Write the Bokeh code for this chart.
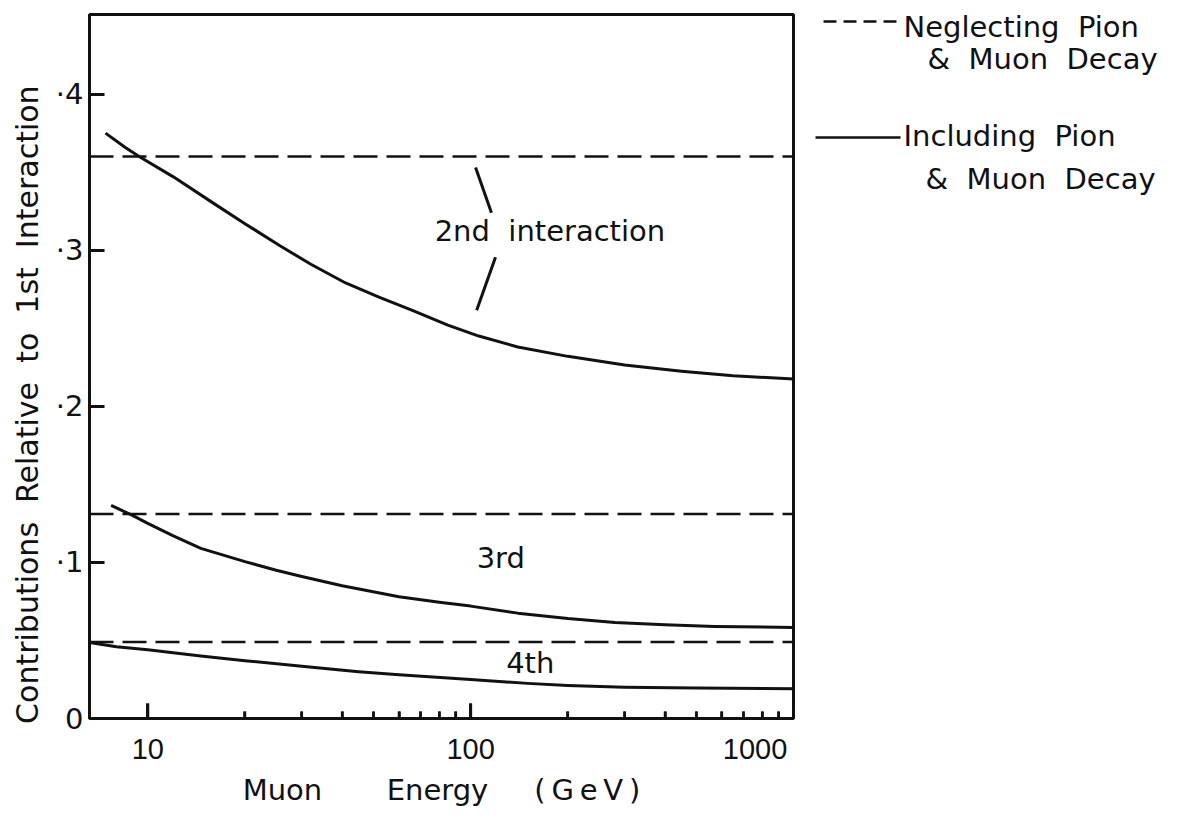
from bokeh.plotting import figure
from bokeh.models import FixedTicker, Range1d
from bokeh.layouts import row
from bokeh.embed import file_html
from bokeh.resources import INLINE
from bokeh.core.properties import value

# ---------------- data ----------------
energy_2nd = [7.4, 8.5, 9.4, 12, 16, 20, 25.6, 32, 41, 52, 66, 85, 106, 140, 200, 300, 450, 650, 1000]
incl_2nd = [0.375, 0.366, 0.360, 0.347, 0.330, 0.317, 0.303, 0.291, 0.279, 0.270, 0.2615, 0.252,
            0.245, 0.238, 0.232, 0.2265, 0.2225, 0.2195, 0.2175]
energy_3rd = [7.7, 9, 10, 12, 14.6, 20, 25, 30, 40, 60, 80, 100, 140, 200, 280, 400, 570, 1000]
incl_3rd = [0.1365, 0.130, 0.125, 0.117, 0.109, 0.1005, 0.095, 0.091, 0.085, 0.078, 0.0745, 0.072,
            0.0675, 0.064, 0.0615, 0.060, 0.059, 0.0583]
energy_4th = [6.6, 8, 10, 14.6, 20, 30, 45, 60, 100, 150, 200, 300, 500, 1000]
incl_4th = [0.0487, 0.046, 0.044, 0.040, 0.037, 0.0335, 0.030, 0.028, 0.025, 0.0225, 0.0212,
            0.020, 0.0195, 0.019]
neglect_levels = [0.360, 0.131, 0.049]          # 2nd, 3rd, 4th (neglecting decay)
energy_span = [6.6, 1000]

x_major = [10, 100, 1000]
x_minor = [20, 30, 40, 50, 60, 70, 80, 90, 200, 300, 400, 500, 600, 700, 800, 900]
x_tick_labels = ["10", "100", "1000" + "\u00a0" * 2]
y_ticks = [0, 0.1, 0.2, 0.3, 0.4]
y_tick_labels = ["0", "\u00b71", "\u00b72", "\u00b73", "\u00b74"]

curve_labels = ["2nd\u00a0\u00a0interaction", "3rd", "4th"]
curve_label_x = [176, 124, 153]
curve_label_y = [0.312, 0.1026, 0.0356]
bracket_x = [[103.6, 116], [119.4, 104.4]]
bracket_y = [[0.353, 0.324], [0.2955, 0.2615]]

legend_texts = ["Neglecting\u00a0\u00a0Pion", "&\u00a0\u00a0Muon\u00a0\u00a0Decay",
                "Including\u00a0\u00a0Pion", "&\u00a0\u00a0Muon\u00a0\u00a0Decay"]

FONT = "DejaVu Sans"
INK = "#111111"
Y_TOP = 0.451
PX = Y_TOP / 704.0          # data units per screen pixel on the y axis

p = figure(width=803, height=811, x_axis_type="log",
           x_range=Range1d(energy_span[0], energy_span[1]), y_range=Range1d(0, Y_TOP),
           output_backend="svg", toolbar_location=None,
           min_border_left=89, min_border_right=10, min_border_top=14, min_border_bottom=93,
           background_fill_color="white", border_fill_color="white")
p.outline_line_color = INK
p.outline_line_width = 3
p.grid.visible = False

# dashed: neglecting decay
for lvl in neglect_levels:
    p.line(energy_span, [lvl, lvl], line_color=INK, line_width=2.6, line_dash="24 9")

# solid: including decay
for ex, yy in [(energy_2nd, incl_2nd), (energy_3rd, incl_3rd), (energy_4th, incl_4th)]:
    p.line(ex, yy, line_color=INK, line_width=3, line_join="round")

p.multi_line(bracket_x, bracket_y, line_color=INK, line_width=3)
p.text(curve_label_x, curve_label_y, text=curve_labels, text_font=value(FONT),
       text_font_size="29px", text_align="center", text_baseline="middle", text_color=INK)

# inward tick marks along the energy axis
p.segment(x0=x_minor, y0=[0] * len(x_minor), x1=x_minor, y1=[7 * PX] * len(x_minor),
          line_color=INK, line_width=2.5)
p.segment(x0=x_major, y0=[0] * len(x_major), x1=x_major, y1=[15 * PX] * len(x_major),
          line_color=INK, line_width=3)

# x axis
xa = p.xaxis[0]
xa.ticker = FixedTicker(ticks=x_major, minor_ticks=x_minor)
xa.major_label_overrides = dict(zip(x_major, x_tick_labels))
xa.major_tick_in = 15
xa.major_tick_out = 0
xa.minor_tick_in = 7
xa.minor_tick_out = 0
xa.major_tick_line_width = 3
xa.minor_tick_line_width = 2.5
xa.axis_line_width = 3
xa.axis_line_color = INK
xa.major_tick_line_color = INK
xa.minor_tick_line_color = INK
xa.major_label_text_font = "Liberation Sans"
xa.major_label_text_font_size = "29px"
xa.major_label_text_color = INK
xa.major_label_standoff = 14
xa.axis_label = ("Muon" + "\u00a0" * 7 + "Energy" + "\u00a0" * 5 + "(\u2009G\u2009e\u2009V\u2009)")
xa.axis_label_text_font = FONT
xa.axis_label_text_font_size = "29px"
xa.axis_label_text_font_style = "normal"
xa.axis_label_text_color = INK
xa.axis_label_standoff = 5

# y axis
ya = p.yaxis[0]
ya.ticker = FixedTicker(ticks=y_ticks, minor_ticks=[])
ya.major_label_overrides = dict(zip(y_ticks, y_tick_labels))
ya.major_tick_in = 15
ya.major_tick_out = 0
ya.minor_tick_in = 0
ya.minor_tick_out = 0
ya.major_tick_line_width = 3
ya.axis_line_width = 3
ya.axis_line_color = INK
ya.major_tick_line_color = INK
ya.major_label_text_font = FONT
ya.major_label_text_font_size = "29px"
ya.major_label_text_color = INK
ya.major_label_standoff = 6
ya.axis_label = ("Contributions\u00a0\u00a0Relative\u00a0\u00a0to\u00a0\u00a01st\u00a0\u00a0Interaction"
                 + "\u00a0" * 8)
ya.axis_label_text_font = FONT
ya.axis_label_text_font_size = "30px"
ya.axis_label_text_font_style = "normal"
ya.axis_label_text_color = INK
ya.axis_label_standoff = 8

# ---------------- legend panel (its frame is aligned with the main frame: page y 14..718) ----------------
q = figure(width=363, height=811, x_range=Range1d(0, 363), y_range=Range1d(718, 14),
           output_backend="svg", toolbar_location=None, min_border=0,
           x_axis_location=None, y_axis_location=None,
           background_fill_color="white", border_fill_color="white")
q.outline_line_color = None
q.grid.visible = False
q.line([20, 99], [21, 21], line_color=INK, line_width=2.5, line_dash="13 7")
q.line([12, 97], [137, 137], line_color=INK, line_width=2.5)
q.text([100, 124, 100, 122], [26, 58, 135, 178], text=legend_texts, text_font=value(FONT),
       text_font_size="29px", text_align="left", text_baseline="middle", text_color=INK)

layout = row(p, q)
open("out.html", "w").write(file_html(layout, INLINE))
